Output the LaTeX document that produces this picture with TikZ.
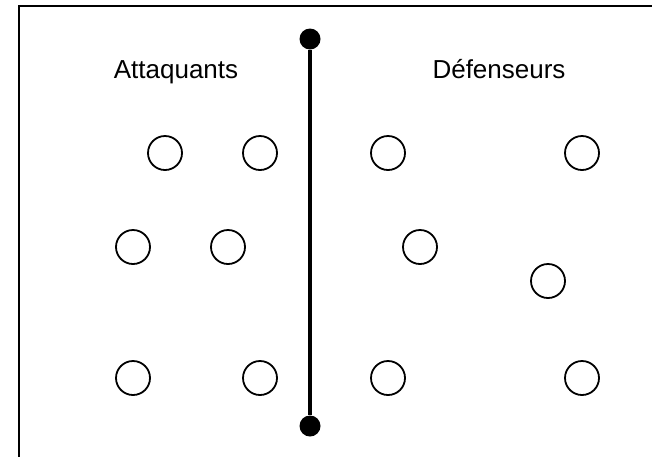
\documentclass[tikz,border=0pt]{standalone}
\usepackage{fontspec}
\setmainfont{Liberation Sans}
\usetikzlibrary{positioning}

\begin{document}
\begin{tikzpicture}[x=1pt, y=-1pt,
  joueur/.style={circle, draw, line width=1.8pt, minimum size=34pt, inner sep=0pt},
  borne/.style={circle, fill=black, minimum size=21pt, inner sep=0pt},
  camp/.style={anchor=base, font=\fontsize{26}{30}\selectfont}]
  \useasboundingbox (0,0) rectangle (652,456);
  \draw [line width=2.5pt] (19,6) rectangle (670,470); % cadre
  \node[camp] (att) at (176,78) {Attaquants};
  \node[camp] (def) at (499,78) {Défenseurs};
  % ligne de separation
  \node[borne] (haut) at (310,39) {};
  \node[borne] (bas) at (310,426) {};
  \draw [line width=3.5pt] (haut) -- (bas);
  % attaquants
  \node[joueur] (a1) at (165,153) {};
  \node[joueur] (a2) at (260,153) {};
  \node[joueur] (a3) at (133,247) {};
  \node[joueur] (a4) at (228,247) {};
  \node[joueur] (a5) at (133,378) {};
  \node[joueur] (a6) at (260,378) {};
  % defenseurs
  \node[joueur] (d1) at (388,153) {};
  \node[joueur] (d2) at (582,153) {};
  \node[joueur] (d3) at (420,247) {};
  \node[joueur] (d4) at (548,281) {};
  \node[joueur] (d5) at (388,378) {};
  \node[joueur] (d6) at (582,378) {};
\end{tikzpicture}
\end{document}
